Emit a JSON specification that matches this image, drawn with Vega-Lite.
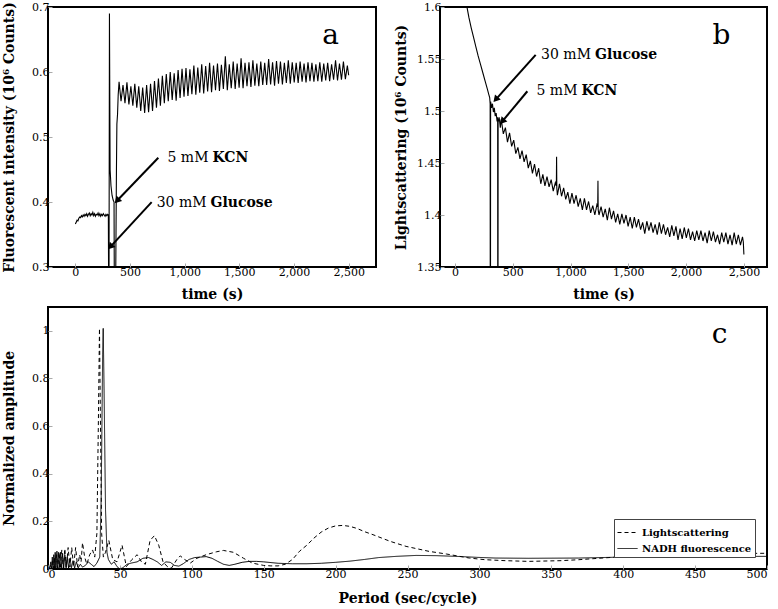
{
  "$schema": "https://vega.github.io/schema/vega-lite/v6.json",
  "background": "white",
  "padding": {"left": 0, "top": 0, "right": 0, "bottom": 0},
  "config": {
    "font": "DejaVu Serif",
    "view": {"stroke": "black", "strokeWidth": 2},
    "axis": {
      "domain": false, "grid": false,
      "labelFont": "DejaVu Serif", "labelFontSize": 11, "labelColor": "black",
      "titleFont": "DejaVu Serif", "titleFontSize": 14, "titleFontWeight": "bold", "titleColor": "black",
      "tickColor": "#aaaaaa", "tickSize": -4, "labelPadding": 3
    },
    "axisX": {"titlePadding": 10},
    "axisY": {"titlePadding": 5, "minExtent": 27, "maxExtent": 27},
    "legend": {
      "labelFont": "DejaVu Serif", "labelFontWeight": "bold", "labelFontSize": 10, "labelColor": "black",
      "strokeColor": "#444444", "fillColor": "white", "padding": 3, "symbolStrokeColor": "black",
      "symbolStrokeWidth": 1, "rowPadding": 0
    }
  },
  "datasets": {
    "fluor": [
      {"t":0,"v":0.366},{"t":8,"v":0.369},{"t":16,"v":0.372},{"t":24,"v":0.371},{"t":32,"v":0.375},{"t":40,"v":0.377},{"t":48,"v":0.376},{"t":56,"v":0.379},{"t":64,"v":0.377},{"t":72,"v":0.380},{"t":80,"v":0.378},{"t":88,"v":0.381},{"t":96,"v":0.379},{"t":104,"v":0.382},{"t":112,"v":0.378},{"t":120,"v":0.381},{"t":128,"v":0.383},{"t":136,"v":0.379},{"t":144,"v":0.382},{"t":152,"v":0.380},{"t":160,"v":0.384},{"t":168,"v":0.379},{"t":176,"v":0.382},{"t":184,"v":0.378},{"t":192,"v":0.381},{"t":200,"v":0.380},{"t":208,"v":0.383},{"t":216,"v":0.379},{"t":224,"v":0.382},{"t":232,"v":0.378},{"t":240,"v":0.381},{"t":248,"v":0.379},{"t":256,"v":0.382},{"t":264,"v":0.380},{"t":272,"v":0.378},{"t":280,"v":0.381},{"t":288,"v":0.379},{"t":296,"v":0.381},{"t":302,"v":0.380},
      {"t":305,"v":0.25},{"t":308,"v":0.25},{"t":312,"v":0.69},{"t":318,"v":0.45},{"t":326,"v":0.425},{"t":336,"v":0.41},{"t":346,"v":0.403},{"t":354,"v":0.40},{"t":357,"v":0.25},{"t":368,"v":0.25},{"t":376,"v":0.45},{"t":380,"v":0.52},{"t":386,"v":0.535},{"t":392,"v":0.565},
      {"t":400,"v":0.585},{"t":418,"v":0.555},{"t":436,"v":0.580},{"t":454,"v":0.552},{"t":472,"v":0.584},{"t":490,"v":0.550},{"t":508,"v":0.578},{"t":526,"v":0.548},{"t":544,"v":0.582},{"t":562,"v":0.545},
      {"t":580,"v":0.578},{"t":598,"v":0.540},{"t":616,"v":0.576},{"t":634,"v":0.537},{"t":652,"v":0.580},{"t":670,"v":0.538},{"t":688,"v":0.582},{"t":706,"v":0.540},{"t":724,"v":0.586},{"t":742,"v":0.545},
      {"t":760,"v":0.590},{"t":778,"v":0.548},{"t":796,"v":0.594},{"t":814,"v":0.552},{"t":832,"v":0.597},{"t":850,"v":0.555},{"t":868,"v":0.600},{"t":886,"v":0.557},{"t":904,"v":0.598},{"t":922,"v":0.556},
      {"t":940,"v":0.603},{"t":958,"v":0.560},{"t":976,"v":0.605},{"t":994,"v":0.562},{"t":1012,"v":0.606},{"t":1030,"v":0.563},{"t":1048,"v":0.604},{"t":1066,"v":0.566},{"t":1084,"v":0.610},{"t":1102,"v":0.565},
      {"t":1120,"v":0.607},{"t":1138,"v":0.568},{"t":1156,"v":0.612},{"t":1174,"v":0.567},{"t":1192,"v":0.609},{"t":1210,"v":0.570},{"t":1228,"v":0.614},{"t":1246,"v":0.569},{"t":1264,"v":0.610},{"t":1282,"v":0.572},
      {"t":1300,"v":0.613},{"t":1318,"v":0.571},{"t":1336,"v":0.611},{"t":1354,"v":0.574},{"t":1372,"v":0.624},{"t":1390,"v":0.572},{"t":1408,"v":0.612},{"t":1426,"v":0.575},{"t":1444,"v":0.616},{"t":1462,"v":0.574},
      {"t":1480,"v":0.613},{"t":1498,"v":0.576},{"t":1516,"v":0.621},{"t":1534,"v":0.575},{"t":1552,"v":0.614},{"t":1570,"v":0.578},{"t":1588,"v":0.615},{"t":1606,"v":0.577},{"t":1624,"v":0.618},{"t":1642,"v":0.579},
      {"t":1660,"v":0.613},{"t":1678,"v":0.578},{"t":1696,"v":0.616},{"t":1714,"v":0.580},{"t":1732,"v":0.614},{"t":1750,"v":0.580},{"t":1768,"v":0.620},{"t":1786,"v":0.581},{"t":1804,"v":0.615},{"t":1822,"v":0.579},
      {"t":1840,"v":0.617},{"t":1858,"v":0.582},{"t":1876,"v":0.616},{"t":1894,"v":0.581},{"t":1912,"v":0.614},{"t":1930,"v":0.583},{"t":1948,"v":0.618},{"t":1966,"v":0.582},{"t":1984,"v":0.615},{"t":2002,"v":0.584},
      {"t":2020,"v":0.614},{"t":2038,"v":0.583},{"t":2056,"v":0.616},{"t":2074,"v":0.585},{"t":2092,"v":0.613},{"t":2110,"v":0.584},{"t":2128,"v":0.615},{"t":2146,"v":0.586},{"t":2164,"v":0.614},{"t":2182,"v":0.585},
      {"t":2200,"v":0.612},{"t":2218,"v":0.586},{"t":2236,"v":0.615},{"t":2254,"v":0.585},{"t":2272,"v":0.613},{"t":2290,"v":0.587},{"t":2308,"v":0.614},{"t":2326,"v":0.586},{"t":2344,"v":0.612},{"t":2362,"v":0.588},
      {"t":2380,"v":0.618},{"t":2398,"v":0.587},{"t":2416,"v":0.613},{"t":2434,"v":0.588},{"t":2452,"v":0.616},{"t":2470,"v":0.589},{"t":2488,"v":0.610},{"t":2500,"v":0.595}
    ],
    "scatter": [
      {"t":80,"v":1.625},{"t":100,"v":1.602},{"t":120,"v":1.590},{"t":140,"v":1.580},{"t":160,"v":1.571},{"t":180,"v":1.562},{"t":200,"v":1.553},{"t":220,"v":1.545},{"t":240,"v":1.537},{"t":260,"v":1.529},{"t":280,"v":1.521},{"t":292,"v":1.516},{"t":300,"v":1.513},{"t":304,"v":1.507},{"t":305,"v":1.30},{"t":307,"v":1.30},{"t":308,"v":1.509},{"t":316,"v":1.503},{"t":324,"v":1.507},{"t":332,"v":1.499},{"t":340,"v":1.503},{"t":348,"v":1.495},{"t":356,"v":1.498},{"t":364,"v":1.490},{"t":369,"v":1.494},{"t":370,"v":1.30},{"t":372,"v":1.30},{"t":373,"v":1.489},{"t":382,"v":1.494},{"t":392,"v":1.484},
      {"t":400,"v":1.492},{"t":418,"v":1.478},{"t":436,"v":1.484},{"t":454,"v":1.470},{"t":472,"v":1.479},{"t":490,"v":1.466},{"t":508,"v":1.472},{"t":526,"v":1.459},{"t":544,"v":1.465},{"t":562,"v":1.454},
      {"t":580,"v":1.462},{"t":598,"v":1.451},{"t":616,"v":1.458},{"t":634,"v":1.445},{"t":652,"v":1.452},{"t":670,"v":1.440},{"t":688,"v":1.449},{"t":706,"v":1.437},{"t":724,"v":1.445},{"t":742,"v":1.430},
      {"t":760,"v":1.439},{"t":778,"v":1.428},{"t":796,"v":1.437},{"t":814,"v":1.427},{"t":832,"v":1.434},{"t":850,"v":1.423},{"t":868,"v":1.431},{"t":877,"v":1.428},{"t":879,"v":1.456},{"t":881,"v":1.426},{"t":886,"v":1.419},
      {"t":904,"v":1.430},{"t":922,"v":1.418},{"t":940,"v":1.426},{"t":958,"v":1.415},{"t":976,"v":1.422},{"t":994,"v":1.411},{"t":1012,"v":1.421},{"t":1030,"v":1.411},{"t":1048,"v":1.419},{"t":1066,"v":1.408},
      {"t":1084,"v":1.416},{"t":1102,"v":1.405},{"t":1120,"v":1.416},{"t":1138,"v":1.405},{"t":1156,"v":1.413},{"t":1174,"v":1.402},{"t":1192,"v":1.409},{"t":1210,"v":1.400},{"t":1228,"v":1.410},{"t":1235,"v":1.408},{"t":1237,"v":1.433},{"t":1239,"v":1.405},
      {"t":1246,"v":1.400},{"t":1264,"v":1.408},{"t":1282,"v":1.398},{"t":1300,"v":1.406},{"t":1318,"v":1.395},{"t":1336,"v":1.407},{"t":1354,"v":1.396},{"t":1372,"v":1.404},{"t":1390,"v":1.393},{"t":1408,"v":1.401},
      {"t":1426,"v":1.391},{"t":1444,"v":1.401},{"t":1462,"v":1.392},{"t":1480,"v":1.400},{"t":1498,"v":1.389},{"t":1516,"v":1.398},{"t":1534,"v":1.387},{"t":1552,"v":1.398},{"t":1570,"v":1.388},{"t":1588,"v":1.396},
      {"t":1606,"v":1.386},{"t":1624,"v":1.393},{"t":1642,"v":1.382},{"t":1660,"v":1.394},{"t":1678,"v":1.385},{"t":1696,"v":1.393},{"t":1714,"v":1.383},{"t":1732,"v":1.391},{"t":1750,"v":1.381},{"t":1768,"v":1.393},
      {"t":1786,"v":1.382},{"t":1804,"v":1.391},{"t":1822,"v":1.381},{"t":1840,"v":1.388},{"t":1858,"v":1.379},{"t":1876,"v":1.390},{"t":1894,"v":1.380},{"t":1912,"v":1.389},{"t":1930,"v":1.376},{"t":1948,"v":1.387},
      {"t":1966,"v":1.377},{"t":1984,"v":1.388},{"t":2002,"v":1.378},{"t":2020,"v":1.387},{"t":2038,"v":1.376},{"t":2056,"v":1.384},{"t":2074,"v":1.375},{"t":2092,"v":1.385},{"t":2110,"v":1.376},{"t":2128,"v":1.385},
      {"t":2146,"v":1.375},{"t":2164,"v":1.383},{"t":2182,"v":1.373},{"t":2200,"v":1.385},{"t":2218,"v":1.375},{"t":2236,"v":1.384},{"t":2254,"v":1.374},{"t":2272,"v":1.381},{"t":2290,"v":1.372},{"t":2308,"v":1.383},
      {"t":2326,"v":1.374},{"t":2344,"v":1.383},{"t":2362,"v":1.372},{"t":2380,"v":1.381},{"t":2398,"v":1.371},{"t":2416,"v":1.383},{"t":2434,"v":1.372},{"t":2452,"v":1.381},{"t":2470,"v":1.371},{"t":2488,"v":1.379},{"t":2495,"v":1.374},{"t":2500,"v":1.362}
    ],
    "lsFFT": [
      {"p":1,"a":0},{"p":2,"a":0.02},{"p":2.6,"a":0},{"p":3.2,"a":0.04},{"p":3.8,"a":0},{"p":4.5,"a":0.05},{"p":5.2,"a":0.002},{"p":6,"a":0.06},{"p":6.8,"a":0.003},{"p":7.7,"a":0.07},{"p":8.6,"a":0.004},{"p":9.6,"a":0.08},{"p":10.6,"a":0.005},{"p":11.7,"a":0.085},{"p":12.8,"a":0.006},{"p":14,"a":0.09},{"p":15.2,"a":0.008},{"p":16.5,"a":0.09},{"p":17.8,"a":0.01},{"p":19.2,"a":0.09},{"p":20.6,"a":0.01},{"p":22,"a":0.06},{"p":23,"a":0.03},{"p":24,"a":0.11},{"p":25.5,"a":0.05},{"p":27,"a":0.02},{"p":29,"a":0.06},{"p":31,"a":0.08},{"p":32.5,"a":0.05},{"p":34,"a":0.15},{"p":35,"a":0.6},{"p":35.8,"a":1.01},{"p":36.5,"a":0.6},{"p":37.3,"a":0.15},{"p":38.5,"a":0.05},{"p":40,"a":0.07},{"p":42.3,"a":0.12},{"p":45,"a":0.04},{"p":48,"a":0.03},{"p":51.5,"a":0.1},{"p":54.5,"a":0.01},{"p":58.4,"a":0.04},{"p":62,"a":0.06},{"p":65,"a":0.03},{"p":67.7,"a":0.02},{"p":71,"a":0.12},{"p":74,"a":0.14},{"p":77,"a":0.1},{"p":80,"a":0.03},{"p":83,"a":0.01},{"p":86,"a":0.005},{"p":89.6,"a":0.04},{"p":92,"a":0.055},{"p":95,"a":0.04},{"p":99,"a":0.025},{"p":103.5,"a":0.045},{"p":110,"a":0.06},{"p":117,"a":0.072},{"p":122,"a":0.078},{"p":129,"a":0.07},{"p":136,"a":0.045},{"p":142,"a":0.025},{"p":150,"a":0.015},{"p":155,"a":0.013},{"p":160,"a":0.013},{"p":165,"a":0.02},{"p":170,"a":0.04},{"p":175,"a":0.075},{"p":180,"a":0.1},{"p":185,"a":0.13},{"p":190,"a":0.155},{"p":195,"a":0.172},{"p":200,"a":0.181},{"p":205,"a":0.183},{"p":210,"a":0.179},{"p":215,"a":0.17},{"p":220,"a":0.157},{"p":226,"a":0.144},{"p":232,"a":0.13},{"p":238,"a":0.116},{"p":249,"a":0.095},{"p":265,"a":0.074},{"p":277,"a":0.063},{"p":293,"a":0.046},{"p":304,"a":0.039},{"p":318,"a":0.035},{"p":334,"a":0.032},{"p":357,"a":0.035},{"p":369,"a":0.039},{"p":383,"a":0.045},{"p":400,"a":0.052},{"p":418,"a":0.058},{"p":450,"a":0.063},{"p":475,"a":0.065},{"p":500,"a":0.066}
    ],
    "nadhFFT": [
      {"p":1,"a":0},{"p":2,"a":0.03},{"p":2.5,"a":0},{"p":3,"a":0.05},{"p":3.5,"a":0.002},{"p":4,"a":0.06},{"p":4.5,"a":0.003},{"p":5,"a":0.07},{"p":5.6,"a":0.005},{"p":6.2,"a":0.075},{"p":6.8,"a":0.004},{"p":7.4,"a":0.07},{"p":8,"a":0.006},{"p":8.7,"a":0.07},{"p":9.4,"a":0.005},{"p":10.1,"a":0.065},{"p":10.9,"a":0.004},{"p":11.7,"a":0.06},{"p":12.5,"a":0.006},{"p":13.4,"a":0.05},{"p":14.3,"a":0.004},{"p":15.3,"a":0.045},{"p":16.3,"a":0.005},{"p":17.4,"a":0.035},{"p":18.5,"a":0.004},{"p":19.7,"a":0.03},{"p":21,"a":0.005},{"p":22.5,"a":0.02},{"p":24,"a":0.008},{"p":26,"a":0.015},{"p":28,"a":0.03},{"p":30,"a":0.02},{"p":32,"a":0.01},{"p":34,"a":0.025},{"p":36,"a":0.05},{"p":37,"a":0.3},{"p":38,"a":0.9},{"p":38.4,"a":1.01},{"p":39,"a":0.75},{"p":40,"a":0.25},{"p":41,"a":0.07},{"p":42,"a":0.04},{"p":44,"a":0.02},{"p":46,"a":0.03},{"p":48,"a":0.01},{"p":50,"a":0.0},{"p":52,"a":0.005},{"p":55,"a":0.02},{"p":58,"a":0.025},{"p":62,"a":0.03},{"p":66,"a":0.045},{"p":70,"a":0.048},{"p":73,"a":0.04},{"p":76,"a":0.03},{"p":79,"a":0.015},{"p":82,"a":0.03},{"p":85,"a":0.028},{"p":88,"a":0.015},{"p":91,"a":0.012},{"p":94,"a":0.022},{"p":98,"a":0.04},{"p":102,"a":0.048},{"p":106,"a":0.05},{"p":110,"a":0.052},{"p":114,"a":0.045},{"p":118,"a":0.032},{"p":122,"a":0.02},{"p":126,"a":0.015},{"p":130,"a":0.02},{"p":135,"a":0.028},{"p":140,"a":0.032},{"p":145,"a":0.032},{"p":150,"a":0.03},{"p":160,"a":0.024},{"p":170,"a":0.022},{"p":180,"a":0.022},{"p":190,"a":0.024},{"p":200,"a":0.028},{"p":210,"a":0.033},{"p":220,"a":0.04},{"p":230,"a":0.048},{"p":242,"a":0.053},{"p":256,"a":0.057},{"p":270,"a":0.056},{"p":284,"a":0.053},{"p":298,"a":0.049},{"p":311,"a":0.046},{"p":334,"a":0.045},{"p":369,"a":0.046},{"p":400,"a":0.05},{"p":450,"a":0.053},{"p":500,"a":0.053}
    ],
    "annA": [
      {"x1":759,"y1":0.468,"x2":381,"y2":0.402,"tx":1236,"ty":0.468,"num":"5 mM","chem":"KCN"},
      {"x1":698,"y1":0.3997,"x2":320,"y2":0.331,"tx":1218,"ty":0.3992,"num":"30 mM","chem":"Glucose"}
    ],
    "annB": [
      {"x1":698,"y1":1.554,"x2":352,"y2":1.511,"tx":1194,"ty":1.5539,"num":"30 mM","chem":"Glucose"},
      {"x1":626,"y1":1.519,"x2":409,"y2":1.490,"tx":1077,"ty":1.5189,"num":"5 mM","chem":"KCN"}
    ],
    "labA": [{"x":2334,"y":0.6435,"lab":"a"}],
    "labB": [{"x":2305,"y":1.5647,"lab":"b"}],
    "labC": [{"x":467,"y":0.947,"lab":"c"}]
  },
  "spacing": 4,
  "vconcat": [
    {
      "bounds": "flush",
      "spacing": 64,
      "hconcat": [
        {
          "width": 328, "height": 260,
          "layer": [
            {
              "data": {"name": "fluor"},
              "mark": {"type": "line", "color": "black", "strokeWidth": 1.1, "clip": true},
              "encoding": {
                "x": {"field": "t", "type": "quantitative", "scale": {"domain": [-250, 2750], "nice": false, "zero": false},
                      "axis": {"values": [0, 500, 1000, 1500, 2000, 2500], "format": ",d", "title": "time (s)"}},
                "y": {"field": "v", "type": "quantitative", "scale": {"domain": [0.3, 0.7], "nice": false, "zero": false},
                      "axis": {"values": [0.3, 0.35, 0.4, 0.45, 0.5, 0.55, 0.6, 0.65, 0.7], "format": ".2~f", "title": "Fluorescent intensity (10⁶ Counts)"}}
              }
            },
            {
              "data": {"name": "annA"},
              "mark": {"type": "rule", "color": "black", "strokeWidth": 2},
              "encoding": {
                "x": {"field": "x1", "type": "quantitative"}, "y": {"field": "y1", "type": "quantitative"},
                "x2": {"field": "x2"}, "y2": {"field": "y2"}
              }
            },
            {
              "data": {"name": "annA"},
              "mark": {"type": "point", "shape": "triangle-up", "angle": 223, "size": 60, "filled": true, "color": "black", "opacity": 1},
              "encoding": {"x": {"field": "x2", "type": "quantitative"}, "y": {"field": "y2", "type": "quantitative"}}
            },
            {
              "data": {"name": "annA"},
              "mark": {"type": "text", "align": "right", "baseline": "middle", "fontSize": 14, "font": "DejaVu Serif", "dx": -2},
              "encoding": {"x": {"field": "tx", "type": "quantitative"}, "y": {"field": "ty", "type": "quantitative"}, "text": {"field": "num"}}
            },
            {
              "data": {"name": "annA"},
              "mark": {"type": "text", "align": "left", "baseline": "middle", "fontSize": 14, "font": "DejaVu Serif", "fontWeight": "bold", "dx": 2},
              "encoding": {"x": {"field": "tx", "type": "quantitative"}, "y": {"field": "ty", "type": "quantitative"}, "text": {"field": "chem"}}
            },
            {
              "data": {"name": "labA"},
              "mark": {"type": "text", "align": "center", "baseline": "alphabetic", "fontSize": 28, "font": "DejaVu Serif"},
              "encoding": {"x": {"field": "x", "type": "quantitative"}, "y": {"field": "y", "type": "quantitative"}, "text": {"field": "lab"}}
            }
          ]
        },
        {
          "width": 327, "height": 260,
          "layer": [
            {
              "data": {"name": "scatter"},
              "mark": {"type": "line", "color": "black", "strokeWidth": 1.1, "clip": true},
              "encoding": {
                "x": {"field": "t", "type": "quantitative", "scale": {"domain": [-130, 2700], "nice": false, "zero": false},
                      "axis": {"values": [0, 500, 1000, 1500, 2000, 2500], "format": ",d", "title": "time (s)"}},
                "y": {"field": "v", "type": "quantitative", "scale": {"domain": [1.35, 1.6], "nice": false, "zero": false},
                      "axis": {"values": [1.35, 1.4, 1.45, 1.5, 1.55, 1.6], "format": ".2~f", "title": "Lightscattering (10⁶ Counts)"}}
              }
            },
            {
              "data": {"name": "annB"},
              "mark": {"type": "rule", "color": "black", "strokeWidth": 2},
              "encoding": {
                "x": {"field": "x1", "type": "quantitative"}, "y": {"field": "y1", "type": "quantitative"},
                "x2": {"field": "x2"}, "y2": {"field": "y2"}
              }
            },
            {
              "data": {"name": "annB"},
              "mark": {"type": "point", "shape": "triangle-up", "angle": 221, "size": 60, "filled": true, "color": "black", "opacity": 1},
              "encoding": {"x": {"field": "x2", "type": "quantitative"}, "y": {"field": "y2", "type": "quantitative"}}
            },
            {
              "data": {"name": "annB"},
              "mark": {"type": "text", "align": "right", "baseline": "middle", "fontSize": 14, "font": "DejaVu Serif", "dx": -2},
              "encoding": {"x": {"field": "tx", "type": "quantitative"}, "y": {"field": "ty", "type": "quantitative"}, "text": {"field": "num"}}
            },
            {
              "data": {"name": "annB"},
              "mark": {"type": "text", "align": "left", "baseline": "middle", "fontSize": 14, "font": "DejaVu Serif", "fontWeight": "bold", "dx": 2},
              "encoding": {"x": {"field": "tx", "type": "quantitative"}, "y": {"field": "ty", "type": "quantitative"}, "text": {"field": "chem"}}
            },
            {
              "data": {"name": "labB"},
              "mark": {"type": "text", "align": "center", "baseline": "alphabetic", "fontSize": 28, "font": "DejaVu Serif"},
              "encoding": {"x": {"field": "x", "type": "quantitative"}, "y": {"field": "y", "type": "quantitative"}, "text": {"field": "lab"}}
            }
          ]
        }
      ]
    },
    {
      "width": 719, "height": 262,
      "layer": [
        {
          "data": {"name": "lsFFT"},
          "mark": {"type": "line", "color": "black", "strokeWidth": 1, "clip": true},
          "encoding": {
            "x": {"field": "p", "type": "quantitative", "scale": {"domain": [0, 500], "nice": false, "zero": false},
                  "axis": {"values": [0, 50, 100, 150, 200, 250, 300, 350, 400, 450, 500], "title": "Period (sec/cycle)", "titlePadding": 12}},
            "y": {"field": "a", "type": "quantitative", "scale": {"domain": [0, 1.1], "nice": false, "zero": false},
                  "axis": {"values": [0, 0.2, 0.4, 0.6, 0.8, 1], "format": ".1~f", "title": "Normalized amplitude"}},
            "strokeDash": {"datum": "Lightscattering", "type": "nominal",
                           "scale": {"domain": ["Lightscattering", "NADH fluorescence"], "range": [[4, 3], [1, 0]]},
                           "legend": {"title": null, "orient": "none", "legendX": 566, "legendY": 512, "symbolType": "stroke", "symbolSize": 400, "symbolStrokeColor": "black"}}
          }
        },
        {
          "data": {"name": "nadhFFT"},
          "mark": {"type": "line", "color": "black", "strokeWidth": 1, "clip": true},
          "encoding": {
            "x": {"field": "p", "type": "quantitative"},
            "y": {"field": "a", "type": "quantitative"},
            "strokeDash": {"datum": "NADH fluorescence", "type": "nominal"}
          }
        },
        {
          "data": {"name": "labC"},
          "mark": {"type": "text", "align": "center", "baseline": "alphabetic", "fontSize": 28, "font": "DejaVu Serif"},
          "encoding": {"x": {"field": "x", "type": "quantitative"}, "y": {"field": "y", "type": "quantitative"}, "text": {"field": "lab"}}
        }
      ]
    }
  ]
}
